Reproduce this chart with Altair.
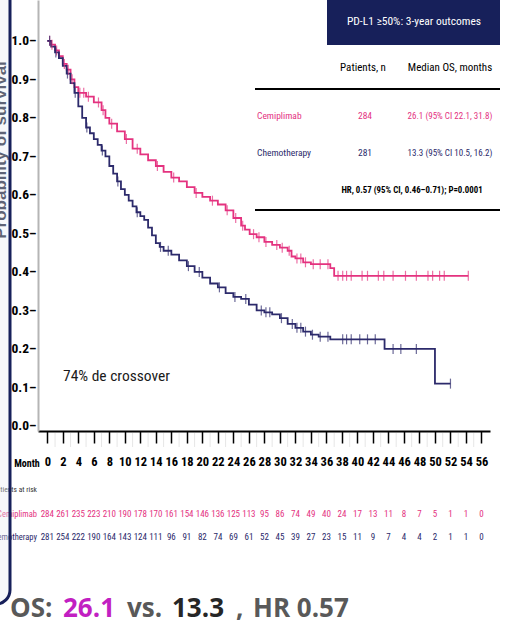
import altair as alt
import numpy as np
import pandas as pd

# --- Kaplan-Meier step points (month, survival probability) ---
cemi_t = [0, 0.5, 1, 1.5, 2, 2.5, 3, 3.5, 4, 5, 6, 7, 7.5, 8, 9, 10, 11, 12, 13, 14,
          15, 16, 17, 18, 19, 20, 21, 22, 23, 24, 25, 25.5, 26.1, 27, 28, 29, 30, 31,
          31.5, 32, 33, 34, 36.5, 37, 54.3]
cemi_s = [1.0, 0.99, 0.975, 0.96, 0.94, 0.925, 0.90, 0.88, 0.865, 0.855, 0.84, 0.82,
          0.80, 0.785, 0.765, 0.745, 0.72, 0.705, 0.69, 0.675, 0.66, 0.645, 0.635, 0.62,
          0.605, 0.595, 0.585, 0.575, 0.56, 0.54, 0.52, 0.51, 0.498, 0.49, 0.478, 0.47,
          0.463, 0.455, 0.44, 0.435, 0.425, 0.42, 0.41, 0.39, 0.39]

chemo_t = [0, 0.5, 1, 1.5, 2, 2.5, 3, 3.5, 4, 4.5, 5, 5.5, 6, 6.5, 7, 7.5, 8, 8.5, 9,
           9.5, 10, 10.5, 11, 11.5, 12, 12.5, 13, 13.5, 14, 14.5, 15, 16, 17, 18, 19,
           20, 21, 22, 23, 24, 25, 26, 27, 28, 29, 30, 31, 32, 33, 34, 35, 36.5, 43.5,
           50, 52]
chemo_s = [1.0, 0.985, 0.97, 0.955, 0.935, 0.915, 0.89, 0.865, 0.83, 0.80, 0.775,
           0.76, 0.745, 0.73, 0.715, 0.70, 0.675, 0.655, 0.635, 0.615, 0.60, 0.585,
           0.57, 0.555, 0.545, 0.535, 0.515, 0.495, 0.475, 0.465, 0.455, 0.445, 0.43,
           0.415, 0.40, 0.385, 0.37, 0.36, 0.345, 0.335, 0.33, 0.315, 0.30, 0.295,
           0.29, 0.28, 0.265, 0.255, 0.245, 0.237, 0.232, 0.225, 0.20, 0.11, 0.11]

# censoring times (months)
cemi_cens = [0.3, 0.6, 1.2, 2.2, 2.7, 3.2, 4.2, 4.7, 5.3, 6.6, 7.2, 8.3, 10.2, 11.6,
             14.2, 16.3, 19.2, 21.3, 23.2, 24.3, 25.2, 26.6, 27.3, 28.2, 29.6, 30.3,
             31.2, 32.2, 32.7, 33.3, 34.3, 35.2, 36.2, 37.5, 38.1, 38.6, 39.2, 40.6,
             41.3, 42.7, 43.4, 44.6, 46.2, 47.6, 49.1, 49.7, 50.6, 51.2, 54.3]
chemo_cens = [0.3, 1.1, 2.6, 3.6, 5.1, 7.1, 9.1, 11.6, 14.6, 15.6, 18.2, 19.6, 22.2,
              24.2, 25.6, 27.6, 28.2, 28.7, 30.2, 31.6, 32.2, 32.7, 33.3, 34.2, 35.2,
              36.2, 38.1, 38.6, 39.2, 40.3, 41.3, 42.3, 44.6, 45.6, 47.6, 52]

# numbers at risk
risk_months = [0, 2, 4, 6, 8, 10, 12, 14, 16, 18, 20, 22, 24, 26, 28, 30, 32, 34, 36,
               38, 40, 42, 44, 46, 48, 50, 52, 54, 56]
cemi_risk = [284, 261, 235, 223, 210, 190, 178, 170, 161, 154, 146, 136, 125, 113, 95,
             86, 74, 49, 40, 24, 17, 13, 11, 8, 7, 5, 1, 1, 0]
chemo_risk = [281, 254, 222, 190, 164, 143, 124, 111, 96, 91, 82, 74, 69, 61, 52, 45,
              39, 27, 23, 15, 11, 9, 7, 4, 4, 2, 1, 1, 0]

# unlabelled minor ticks on the month axis
minor_months = [1, 3, 5, 7, 9, 11, 13, 15, 17, 19, 21, 23, 25, 27, 29, 31, 33, 35, 37,
                39, 41, 43, 45, 47, 49, 51, 53, 55]

y_ticks = [0.0, 0.1, 0.2, 0.3, 0.4, 0.5, 0.6, 0.7, 0.8, 0.9, 1.0]

arms = ["Cemiplimab", "Chemotherapy"]
PINK = "#e4327f"
NAVY = "#2c2a6b"
DARKBLUE = "#17205a"
NARROW = ("Roboto Condensed, Noto Sans Condensed, Open Sans Condensed, "
          "Liberation Sans Narrow, Arial Narrow, DejaVu Sans Condensed, Lato, sans-serif")
LEFT = 38  # left padding (plot origin in page pixels)


def on_curve(times, surv, cens):
    idx = np.searchsorted(np.array(times), np.array(cens), side="right") - 1
    return [surv[i] for i in idx]


curves = pd.concat([
    pd.DataFrame({"month": cemi_t, "surv": cemi_s, "arm": arms[0]}),
    pd.DataFrame({"month": chemo_t, "surv": chemo_s, "arm": arms[1]}),
])
censors = pd.concat([
    pd.DataFrame({"month": cemi_cens, "surv": on_curve(cemi_t, cemi_s, cemi_cens), "arm": arms[0]}),
    pd.DataFrame({"month": chemo_cens, "surv": on_curve(chemo_t, chemo_s, chemo_cens), "arm": arms[1]}),
])
risk_cemi = pd.DataFrame({"month": risk_months, "n": cemi_risk})
risk_chemo = pd.DataFrame({"month": risk_months, "n": chemo_risk})
minor = pd.DataFrame({"month": minor_months})

xscale = alt.Scale(domain=[-1.2, 57.1], nice=False, zero=False)
yscale = alt.Scale(domain=[-0.013, 1.106], nice=False, zero=False)
cscale = alt.Scale(domain=arms, range=[PINK, NAVY])

x_axis = alt.Axis(values=risk_months, title=None, grid=False, domainColor="black",
                  domainWidth=2, tickColor="black", tickWidth=1.5, tickSize=12,
                  labelFont=NARROW, labelFontWeight="bold", labelFontSize=12.5,
                  labelColor="black", labelPadding=12, labelFlush=False)
y_axis = alt.Axis(values=y_ticks, title=None, grid=False, domainColor="#b5b5b5",
                  domainWidth=2, ticks=False, labelFont=NARROW, labelFontWeight="bold",
                  labelFontSize=13.5, labelColor="black", labelPadding=2,
                  labelExpr="format(datum.value, '.1f') + '–'")

X = alt.X("month:Q", scale=xscale, axis=x_axis)
Y = alt.Y("surv:Q", scale=yscale, axis=y_axis)

minor_ticks = alt.Chart(minor).mark_rule(color="#e6e6e6", strokeWidth=1).encode(
    x=X, y=alt.value(433), y2=alt.value(447))

lines = alt.Chart(curves).mark_line(interpolate="step-after", strokeWidth=1.8).encode(
    x=X, y=Y, color=alt.Color("arm:N", scale=cscale, legend=None),
)

ticks = alt.Chart(censors).mark_tick(orient="vertical", size=10, thickness=1.2).encode(
    x=X, y=Y, color=alt.Color("arm:N", scale=cscale, legend=None),
)


def risk_row(df, ypix, color):
    return alt.Chart(df).mark_text(font=NARROW, fontSize=9, baseline="middle",
                                   color=color).encode(
        x=X, y=alt.value(ypix), text="n:Q")


one = pd.DataFrame({"k": [0]})


def label(text, x, y, size, color="black", weight="normal", align="center",
          font=NARROW, baseline="middle", angle=0):
    return alt.Chart(one).mark_text(
        text=text, fontSize=size, color=color, fontWeight=weight, align=align,
        font=font, baseline=baseline, angle=angle,
    ).encode(x=alt.value(x - LEFT), y=alt.value(y))


def box(x1, x2, y1, y2, **kw):
    return alt.Chart(one).mark_rect(**kw).encode(
        x=alt.value(x1 - LEFT), x2=alt.value(x2 - LEFT), y=alt.value(y1), y2=alt.value(y2))


def hline(x1, x2, y, color="black", width=2):
    return alt.Chart(one).mark_rule(color=color, strokeWidth=width).encode(
        x=alt.value(x1 - LEFT), x2=alt.value(x2 - LEFT), y=alt.value(y))


# summary table in the upper right
table = [
    box(327, 500, 0, 45, color=DARKBLUE),
    label("PD-L1 ≥50%: 3-year outcomes", 414, 22, 11.5, color="white"),
    label("Patients, n", 363, 68, 11),
    label("Median OS, months", 450, 68, 11),
    hline(255, 500, 89),
    label("Cemiplimab", 257, 116, 9.5, color=PINK, align="left"),
    label("284", 365, 116, 9.5, color=PINK),
    label("26.1 (95% CI 22.1, 31.8)", 450, 116, 9, color=PINK),
    label("Chemotherapy", 257, 153, 9.5, color=NAVY, align="left"),
    label("281", 365, 153, 9.5, color=NAVY),
    label("13.3 (95% CI 10.5, 16.2)", 450, 153, 9, color=NAVY),
    label("HR, 0.57 (95% CI, 0.46–0.71); P=0.0001", 412, 190, 8.8, weight="bold"),
    hline(255, 500, 210),
]

notes = [
    label("74% de crossover", 63, 376, 15.5, color="#1a1a1a", align="left"),
    label("Month", 27, 464, 10, weight="bold"),
    label("Patients at risk", 37, 490, 7.5, color="#333333", align="right"),
    label("Cemiplimab", 37, 514, 8.5, color=PINK, align="right"),
    label("Chemotherapy", 37, 537, 8.5, color=NAVY, align="right"),
]

# frame on the left with the rotated axis title
frame = [
    label("Probability of survival", 6, 150, 17, color="#141a33", weight="bold",
          font="Liberation Sans, Arial, sans-serif", baseline="alphabetic", angle=270),
    box(-60, 10, -30, 604, fill="#e9ecf2", fillOpacity=0.35, stroke=DARKBLUE,
        strokeWidth=3, cornerRadius=14),
]

# headline below the chart
OS_FONT = "Open Sans, Liberation Sans, sans-serif"
GREY = "#595959"
headline = [
    label("OS:", 10, 617, 26, color=GREY, weight="bold", align="left", font=OS_FONT, baseline="alphabetic"),
    label("26.1", 63, 617, 26, color="#c21fc2", weight="bold", align="left", font=OS_FONT, baseline="alphabetic"),
    label("vs.", 127, 617, 26, color=GREY, weight="bold", align="left", font=OS_FONT, baseline="alphabetic"),
    label("13.3", 172, 617, 26, color="#262626", weight="bold", align="left", font=OS_FONT, baseline="alphabetic"),
    label(",", 236, 617, 26, color=GREY, weight="bold", align="left", font=OS_FONT, baseline="alphabetic"),
    label("HR 0.57", 253, 617, 26, color=GREY, weight="bold", align="left", font=OS_FONT, baseline="alphabetic"),
]

chart = alt.layer(
    minor_ticks, lines, ticks,
    risk_row(risk_cemi, 514, PINK), risk_row(risk_chemo, 537, NAVY),
    *table, *notes, *frame, *headline,
).properties(
    width=452,
    height=431,
    padding={"left": LEFT, "top": 0, "right": 23, "bottom": 210},
    autosize=alt.AutoSizeParams(type="none"),
    background="white",
).configure_view(strokeWidth=0)

chart.save("out.html", embed_options={"renderer": "svg", "actions": False})
